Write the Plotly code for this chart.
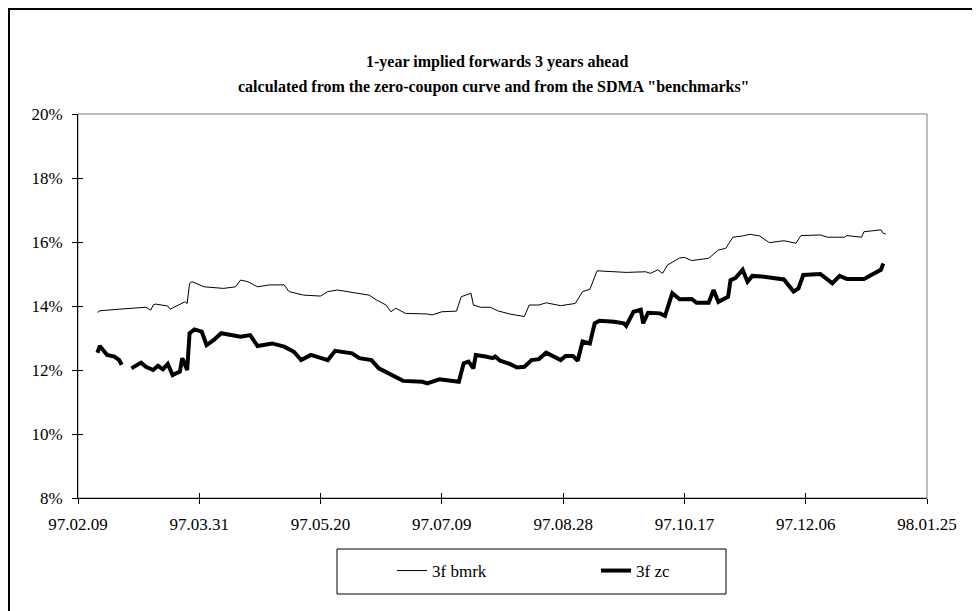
import plotly.graph_objects as go

# ---- data ----
bmrk_dates = ["1997-02-17","1997-02-18","1997-02-26","1997-03-05","1997-03-09","1997-03-11","1997-03-12",
              "1997-03-13","1997-03-18","1997-03-19","1997-03-23","1997-03-25","1997-03-26","1997-03-27",
              "1997-03-28","1997-04-02","1997-04-10","1997-04-15","1997-04-17","1997-04-20","1997-04-24",
              "1997-04-29","1997-05-05","1997-05-07","1997-05-13","1997-05-20","1997-05-23","1997-05-27",
              "1997-06-04","1997-06-09","1997-06-12","1997-06-16","1997-06-18","1997-06-20","1997-06-24",
              "1997-07-03","1997-07-05","1997-07-09","1997-07-15","1997-07-17","1997-07-21","1997-07-22",
              "1997-07-25","1997-07-29","1997-08-01","1997-08-06","1997-08-12","1997-08-14","1997-08-18",
              "1997-08-21","1997-08-27","1997-09-02","1997-09-05","1997-09-08","1997-09-11","1997-09-15",
              "1997-09-23","1997-10-01","1997-10-03","1997-10-06","1997-10-08","1997-10-10","1997-10-15",
              "1997-10-17","1997-10-20","1997-10-27","1997-10-31","1997-11-03","1997-11-06","1997-11-10",
              "1997-11-13","1997-11-17","1997-11-21","1997-11-27","1997-12-02","1997-12-04","1997-12-12",
              "1997-12-15","1997-12-22","1997-12-23","1997-12-29","1997-12-30","1998-01-06","1998-01-07",
              "1998-01-08"]
bmrk_vals = [13.80,13.85,13.90,13.93,13.96,13.87,14.03,
             14.06,14.00,13.90,14.06,14.13,14.08,14.71,
             14.76,14.60,14.55,14.60,14.81,14.76,14.60,
             14.66,14.66,14.45,14.34,14.31,14.45,14.50,
             14.40,14.34,14.19,14.03,13.82,13.93,13.77,
             13.75,13.72,13.82,13.84,14.29,14.40,14.03,
             13.96,13.96,13.85,13.75,13.67,14.03,14.03,
             14.10,14.01,14.08,14.45,14.52,15.10,15.09,
             15.05,15.07,15.02,15.13,15.02,15.28,15.50,
             15.52,15.42,15.49,15.75,15.80,16.15,16.19,
             16.24,16.19,15.98,16.04,15.96,16.20,16.22,
             16.15,16.15,16.20,16.15,16.32,16.38,16.27,
             16.25]

zc_dates = ["1997-02-17","1997-02-18","1997-02-21","1997-02-24","1997-02-26","1997-02-27","1997-02-28",
            "1997-03-03","1997-03-07","1997-03-09","1997-03-12","1997-03-14","1997-03-16","1997-03-18",
            "1997-03-20","1997-03-23","1997-03-24","1997-03-26","1997-03-27","1997-03-29","1997-04-01",
            "1997-04-03","1997-04-06","1997-04-09","1997-04-17","1997-04-21","1997-04-24","1997-04-30",
            "1997-05-05","1997-05-09","1997-05-12","1997-05-16","1997-05-23","1997-05-26","1997-06-02",
            "1997-06-05","1997-06-10","1997-06-13","1997-06-20","1997-06-23","1997-07-01","1997-07-03",
            "1997-07-08","1997-07-11","1997-07-16","1997-07-18","1997-07-20","1997-07-22","1997-07-23",
            "1997-07-27","1997-07-30","1997-07-31","1997-08-02","1997-08-06","1997-08-09","1997-08-12",
            "1997-08-15","1997-08-18","1997-08-21","1997-08-27","1997-08-29","1997-09-01","1997-09-03",
            "1997-09-05","1997-09-08","1997-09-10","1997-09-12","1997-09-18","1997-09-22","1997-09-23",
            "1997-09-26","1997-09-29","1997-09-30","1997-10-02","1997-10-07","1997-10-09","1997-10-12",
            "1997-10-15","1997-10-18","1997-10-20","1997-10-22","1997-10-27","1997-10-29","1997-10-31",
            "1997-11-04","1997-11-05","1997-11-07","1997-11-10","1997-11-12","1997-11-14","1997-11-18",
            "1997-11-25","1997-11-27","1997-12-01","1997-12-03","1997-12-05","1997-12-12","1997-12-17",
            "1997-12-20","1997-12-23","1997-12-30","1998-01-02","1998-01-06","1998-01-07"]
zc_vals = [12.54,12.75,12.47,12.42,12.31,12.16,None,
           12.05,12.23,12.10,12.00,12.13,12.02,12.19,
           11.84,11.95,12.37,12.00,13.15,13.27,13.20,
           12.78,12.94,13.15,13.04,13.09,12.75,12.83,
           12.73,12.57,12.31,12.47,12.31,12.60,12.52,
           12.37,12.31,12.05,11.79,11.66,11.63,11.58,
           11.71,11.69,11.63,12.21,12.26,12.05,12.47,
           12.42,12.37,12.42,12.29,12.19,12.08,12.10,
           12.31,12.34,12.54,12.31,12.44,12.44,12.29,
           12.89,12.83,13.46,13.54,13.51,13.46,13.38,
           13.82,13.88,13.46,13.79,13.77,13.69,14.40,
           14.21,14.21,14.22,14.10,14.10,14.50,14.13,
           14.29,14.81,14.87,15.13,14.76,14.94,14.92,
           14.83,14.83,14.45,14.55,14.97,15.00,14.71,
           14.94,14.84,14.84,14.97,15.13,15.33]

x_tickvals = ["1997-02-09","1997-03-31","1997-05-20","1997-07-09","1997-08-28",
              "1997-10-17","1997-12-06","1998-01-25"]
x_ticktext = ["97.02.09","97.03.31","97.05.20","97.07.09","97.08.28",
              "97.10.17","97.12.06","98.01.25"]
y_tickvals = [8, 10, 12, 14, 16, 18, 20]
y_ticktext = ["8%", "10%", "12%", "14%", "16%", "18%", "20%"]

title_lines = ["1-year implied forwards 3 years ahead",
               "calculated from the zero-coupon curve and from the SDMA \"benchmarks\""]
series_names = ["3f bmrk", "3f zc"]

FONT = "Liberation Serif, Times New Roman, serif"
x_range = [x_tickvals[0], x_tickvals[-1]]
y_range = [8, 20]

fig = go.Figure()
fig.add_trace(go.Scatter(x=bmrk_dates, y=bmrk_vals, mode="lines", name=series_names[0],
                         line=dict(color="black", width=1), connectgaps=False))
fig.add_trace(go.Scatter(x=zc_dates, y=zc_vals, mode="lines", name=series_names[1],
                         line=dict(color="black", width=4), connectgaps=False))
# invisible trace that carries the overlaid axes (inner half of the crossing ticks)
fig.add_trace(go.Scatter(x=bmrk_dates, y=bmrk_vals, mode="lines", xaxis="x2", yaxis="y2",
                         line=dict(width=0), opacity=0, showlegend=False, hoverinfo="skip"))

# page is offset by the 8px body margin
OFF = 8
W, H = 980 - OFF, 611 - OFF
PL, PR, PT, PB = 78, 927, 114, 498          # plot area in page pixels
L, T = PL - OFF, PT - OFF
R, B = W - (PR - OFF), H - (PB - OFF)
pw, ph = W - L - R, H - T - B

def px_x(x):
    return (x - OFF - L) / pw

def px_y(y):
    return (H - B - (y - OFF)) / ph

fig.update_layout(
    width=W, height=H,
    margin=dict(l=L, r=R, t=T, b=B),
    paper_bgcolor="white", plot_bgcolor="white",
    font=dict(family=FONT, size=17, color="black"),
    xaxis=dict(type="date", range=x_range, tickvals=x_tickvals, ticktext=x_ticktext,
               showgrid=False, zeroline=False, showline=True, linecolor="black", linewidth=1,
               ticks="outside", ticklen=5, tickcolor="black", tickwidth=1,
               ticklabelstandoff=6,
               tickfont=dict(family=FONT, size=17, color="black")),
    yaxis=dict(range=y_range, tickvals=y_tickvals, ticktext=y_ticktext,
               showgrid=False, zeroline=False, showline=True, linecolor="black", linewidth=1,
               ticks="outside", ticklen=5, tickcolor="black", tickwidth=1,
               ticklabelstandoff=6,
               tickfont=dict(family=FONT, size=17, color="black")),
    xaxis2=dict(type="date", overlaying="x", anchor="y", side="bottom", range=x_range,
                tickvals=x_tickvals, showticklabels=False, showgrid=False, zeroline=False,
                showline=False, ticks="inside", ticklen=5, tickcolor="black", tickwidth=1),
    yaxis2=dict(overlaying="y", anchor="x", side="left", range=y_range, tickvals=y_tickvals,
                showticklabels=False, showgrid=False, zeroline=False, showline=False,
                ticks="inside", ticklen=5, tickcolor="black", tickwidth=1),
    showlegend=True,
    legend=dict(orientation="h", x=px_x(392), xanchor="left", y=px_y(571), yanchor="middle",
                bgcolor="rgba(0,0,0,0)", borderwidth=0, entrywidth=159, entrywidthmode="pixels",
                font=dict(family=FONT, size=17, color="black")),
    annotations=[
        dict(text="<b>" + title_lines[0] + "</b>", xref="paper", yref="paper",
             x=px_x(497), y=px_y(62), xanchor="center", yanchor="middle", showarrow=False,
             font=dict(family=FONT, size=16, color="black")),
        dict(text="<b>" + title_lines[1] + "</b>", xref="paper", yref="paper",
             x=px_x(494), y=px_y(87), xanchor="center", yanchor="middle", showarrow=False,
             font=dict(family=FONT, size=16, color="black")),
    ],
    shapes=[
        # plot-area frame (grey)
        dict(type="rect", xref="paper", yref="paper", x0=0, x1=1, y0=0, y1=1,
             line=dict(color="#808080", width=1), layer="below"),
        # legend box
        dict(type="rect", xref="paper", yref="paper", x0=px_x(337), x1=px_x(726),
             y0=px_y(594), y1=px_y(549), line=dict(color="black", width=1)),
        # outer chart border
        dict(type="rect", xref="paper", yref="paper", x0=px_x(9), x1=px_x(975),
             y0=px_y(640), y1=px_y(9), line=dict(color="black", width=2)),
    ],
)

fig.write_html("out.html")
